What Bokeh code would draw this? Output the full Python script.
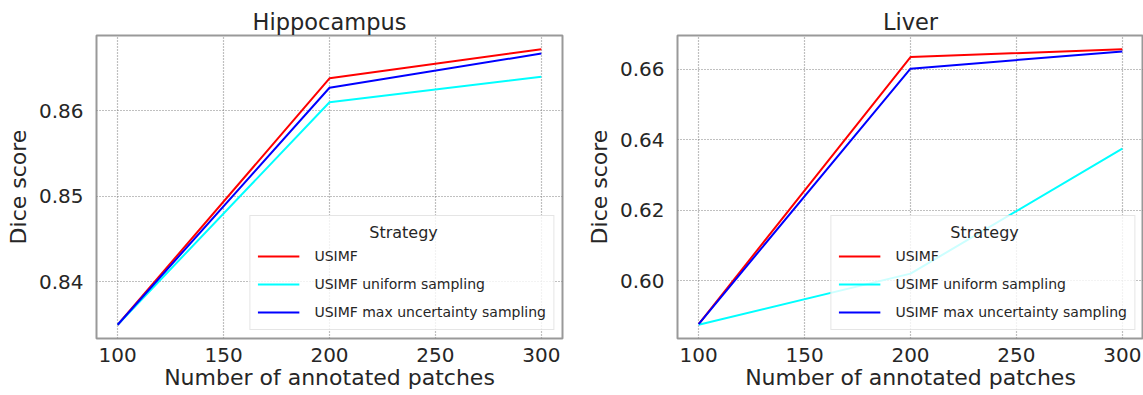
from bokeh.plotting import figure
from bokeh.layouts import row
from bokeh.models import Legend, LegendItem, FixedTicker, Range1d, NumeralTickFormatter
from bokeh.embed import file_html
from bokeh.resources import INLINE

# ---- data ----
patches = [100, 200, 300]
series_names = ["USIMF", "USIMF uniform sampling", "USIMF max uncertainty sampling"]
series_colors = ["#ff0000", "#00ffff", "#0000ff"]

hippo_usimf = [0.8350, 0.8638, 0.8672]
hippo_uniform = [0.8350, 0.8610, 0.8640]
hippo_maxunc = [0.8350, 0.8627, 0.8667]

liver_usimf = [0.5877, 0.6635, 0.6657]
liver_uniform = [0.5875, 0.6020, 0.6375]
liver_maxunc = [0.5877, 0.6602, 0.6651]

x_ticks = [100, 150, 200, 250, 300]
hippo_y_ticks = [0.84, 0.85, 0.86]
liver_y_ticks = [0.60, 0.62, 0.64, 0.66]
legend_title = "Strategy"

TEXT = "#262626"
FONT = "DejaVu Sans"
HEIGHT = 395
# non-breaking spaces push the legend title to the middle of the legend box
TITLE_INDENT = "\u00a0" * 22


def padded(vals, frac=0.05):
    lo, hi = min(vals), max(vals)
    pad = (hi - lo) * frac
    return lo - pad, hi + pad


def make_panel(title, series, y_ticks, width, left_border, right_border):
    ally = [v for s in series for v in s]
    x0, x1 = padded(patches)
    y0, y1 = padded(ally)
    p = figure(width=width, height=HEIGHT, output_backend="svg", toolbar_location=None,
               x_range=Range1d(x0, x1), y_range=Range1d(y0, y1),
               min_border_left=left_border, min_border_right=right_border,
               min_border_top=35, min_border_bottom=57)
    p.title.text = title
    p.title.align = "center"
    p.title.text_font = FONT
    p.title.text_font_size = "22.5px"
    p.title.text_font_style = "normal"
    p.title.text_color = TEXT
    p.title.standoff = 2

    p.outline_line_color = "#999999"
    p.outline_line_width = 2
    p.background_fill_color = "white"
    p.border_fill_color = "white"

    p.xaxis.ticker = FixedTicker(ticks=x_ticks)
    p.yaxis.ticker = FixedTicker(ticks=y_ticks)
    p.yaxis.formatter = NumeralTickFormatter(format="0.00")
    for ax in (p.xaxis[0], p.yaxis[0]):
        ax.axis_line_color = None
        ax.major_tick_line_color = None
        ax.minor_tick_line_color = None
        ax.major_tick_out = 0
        ax.major_tick_in = 0
        ax.minor_tick_out = 0
        ax.minor_tick_in = 0
        ax.major_label_text_font = FONT
        ax.major_label_text_font_size = "20px"
        ax.major_label_text_color = TEXT
        ax.axis_label_text_font = FONT
        ax.axis_label_text_font_size = "22px"
        ax.axis_label_text_font_style = "normal"
        ax.axis_label_text_color = TEXT
    p.xaxis.axis_label = "Number of annotated patches"
    p.yaxis.axis_label = "Dice score"
    p.xaxis.major_label_standoff = 9
    p.xaxis.axis_label_standoff = 0
    p.yaxis.major_label_standoff = 13
    p.yaxis.axis_label_standoff = 5

    p.grid.grid_line_color = "#808080"
    p.grid.grid_line_dash = "1 2"
    p.grid.grid_line_width = 1.2
    p.grid.minor_grid_line_color = None

    items = []
    for name, color, vals in zip(series_names, series_colors, series):
        r = p.line(patches, vals, line_color=color, line_width=2)
        items.append(LegendItem(label=name, renderers=[r]))

    legend = Legend(items=items, location="bottom_right", title=TITLE_INDENT + legend_title)
    legend.title_text_font = FONT
    legend.title_text_font_size = "16px"
    legend.title_text_font_style = "normal"
    legend.title_text_color = TEXT
    legend.title_standoff = 4
    legend.label_text_font = FONT
    legend.label_text_font_size = "14px"
    legend.label_text_color = TEXT
    legend.label_standoff = 15
    legend.glyph_width = 42
    legend.glyph_height = 20
    legend.label_height = 20
    legend.spacing = 8
    legend.padding = 7
    legend.margin = 8
    legend.border_line_color = "#cccccc"
    legend.border_line_width = 1
    legend.background_fill_color = "white"
    legend.background_fill_alpha = 0.8
    p.add_layout(legend, "center")
    return p


p1 = make_panel("Hippocampus", [hippo_usimf, hippo_uniform, hippo_maxunc],
                hippo_y_ticks, 570, 96, 8)
p2 = make_panel("Liver", [liver_usimf, liver_uniform, liver_maxunc],
                liver_y_ticks, 573, 107, 0)

layout = row(p1, p2)
open("out.html", "w").write(file_html(layout, INLINE))
